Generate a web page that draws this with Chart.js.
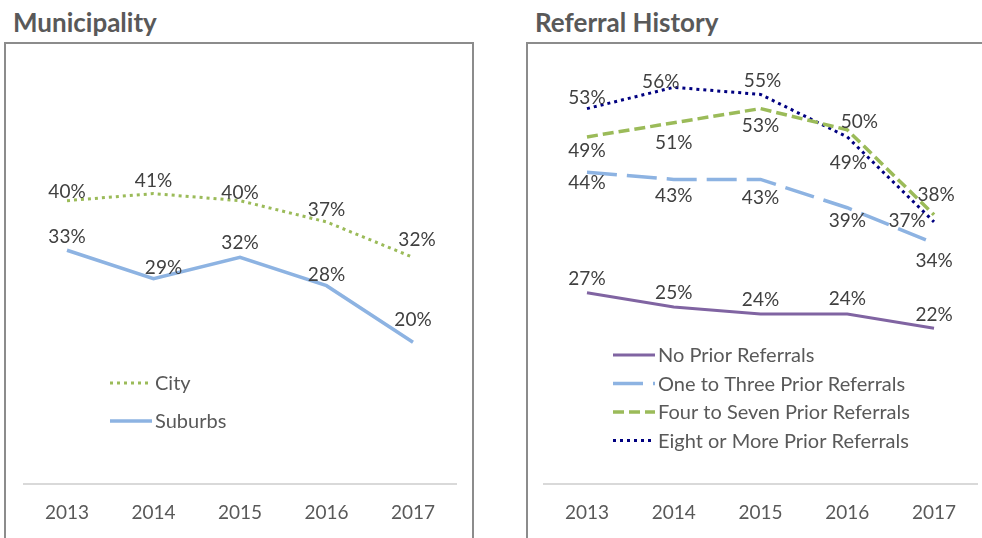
<!DOCTYPE html>
<html>
<head>
<meta charset="utf-8">
<script src="https://cdn.jsdelivr.net/npm/chart.js@4.4.1/dist/chart.umd.min.js"></script>
<style>
  body { margin: 0; width: 982px; height: 538px; overflow: hidden; background: #fff; position: relative; font-family: Lato, sans-serif; }
  .title { position: absolute; top: 7px; font-weight: bold; font-size: 26px; line-height: 30px; color: #595959; }
  .box { position: absolute; top: 42px; height: 520px; border: 2px solid #8c8c8c; }
  canvas { position: absolute; top: 0; }
</style>
</head>
<body>
<div class="title" style="left:13px">Municipality</div>
<div class="title" style="left:535px">Referral History</div>
<div class="box" style="left:4px;width:466px"></div>
<div class="box" style="left:526px;width:480px"></div>
<canvas id="muni" width="480" height="538" style="left:0"></canvas>
<canvas id="refs" width="482" height="538" style="left:500px"></canvas>
<script>
// data
const years = ['2013', '2014', '2015', '2016', '2017'];

const city = [40, 41, 40, 37, 32];
const suburbs = [33, 29, 32, 28, 20];

const noPrior = [27, 25, 24, 24, 22];
const oneToThree = [44, 43, 43, 39, 34];
const fourToSeven = [49, 51, 53, 50, 38];
const eightOrMore = [53, 56, 55, 49, 37];

const textColor = '#595959';
const labelColor = '#404040';
const fontFamily = 'Lato, sans-serif';

// draws the "40%" style labels next to each point
const pctLabels = {
  id: 'pctLabels',
  afterDatasetsDraw(chart) {
    const ctx = chart.ctx;
    ctx.save();
    ctx.font = '19px ' + fontFamily;
    ctx.fillStyle = labelColor;
    ctx.textAlign = 'center';
    ctx.textBaseline = 'middle';
    chart.data.datasets.forEach((ds, i) => {
      chart.getDatasetMeta(i).data.forEach((pt, j) => {
        const off = ds.labelOffsets[j];
        ctx.fillText(ds.data[j] + '%', pt.x + off[0], pt.y + off[1]);
      });
    });
    ctx.restore();
  }
};

// legend drawn inside the plot, like the excel one
const insideLegend = {
  id: 'insideLegend',
  afterDatasetsDraw(chart, args, opts) {
    const ctx = chart.ctx;
    ctx.save();
    ctx.font = '20px ' + fontFamily;
    ctx.textBaseline = 'middle';
    chart.data.datasets.forEach((ds, i) => {
      const y = opts.y + i * opts.gap;
      ctx.strokeStyle = ds.borderColor;
      ctx.lineWidth = ds.borderWidth;
      ctx.setLineDash(ds.borderDash || []);
      ctx.lineCap = 'butt';
      ctx.beginPath();
      ctx.moveTo(opts.x, y);
      ctx.lineTo(opts.x + 42, y);
      ctx.stroke();
      ctx.setLineDash([]);
      ctx.fillStyle = textColor;
      ctx.fillText(ds.label, opts.x + 45, y + 1);
    });
    ctx.restore();
  }
};

function makeLineChart(el, datasets, padLeft, padRight, legendPos) {
  return new Chart(el, {
    type: 'line',
    data: { labels: years, datasets },
    options: {
      responsive: false,
      animation: false,
      layout: { padding: { left: padLeft, right: padRight, top: 59, bottom: 0 } },
      elements: { point: { radius: 0 }, line: { tension: 0 } },
      plugins: {
        legend: { display: false },
        tooltip: { enabled: false },
        insideLegend: legendPos
      },
      scales: {
        x: {
          offset: true,
          grid: { display: false, drawTicks: false },
          border: { display: true, color: '#d9d9d9', width: 2 },
          ticks: { color: textColor, font: { family: fontFamily, size: 19 }, padding: 17 },
          afterFit(scale) { scale.height = 54; }
        },
        y: { display: false, min: 0, max: 60 }
      }
    },
    plugins: [pctLabels, insideLegend]
  });
}

makeLineChart(document.getElementById('muni'), [
  {
    label: 'City', data: city,
    borderColor: '#9bbb59', borderWidth: 3, borderDash: [3, 4],
    labelOffsets: [[0, -9], [0, -13], [0, -8], [0, -12], [4, -17]]
  },
  {
    label: 'Suburbs', data: suburbs,
    borderColor: '#8db3e2', borderWidth: 3.5,
    labelOffsets: [[0, -13], [10, -11], [0, -14], [0, -11], [0, -22]]
  }
], 23.75, 23.75, { x: 110, y: 383, gap: 38 });

makeLineChart(document.getElementById('refs'), [
  {
    label: 'No Prior Referrals', data: noPrior,
    borderColor: '#8064a2', borderWidth: 3,
    labelOffsets: [[0, -14], [0, -14], [0, -14], [0, -15], [0, -13]]
  },
  {
    label: 'One to Three Prior Referrals', data: oneToThree,
    borderColor: '#8db3e2', borderWidth: 3.5, borderDash: [30, 10],
    labelOffsets: [[0, 11], [0, 16], [0, 18], [0, 13], [0, 18]]
  },
  {
    label: 'Four to Seven Prior Referrals', data: fourToSeven,
    borderColor: '#9bbb59', borderWidth: 3.5, borderDash: [11, 5],
    labelOffsets: [[0, 14], [0, 20], [0, 17], [12, -8], [2, -20]]
  },
  {
    label: 'Eight or More Prior Referrals', data: eightOrMore,
    borderColor: '#000080', borderWidth: 3, borderDash: [3, 4],
    labelOffsets: [[0, -11], [-13, -5], [2, -14], [1, 26], [-27, -1]]
  }
], 43.6, 4.6, { x: 113, y: 355, gap: 28.5 });
</script>
</body>
</html>
